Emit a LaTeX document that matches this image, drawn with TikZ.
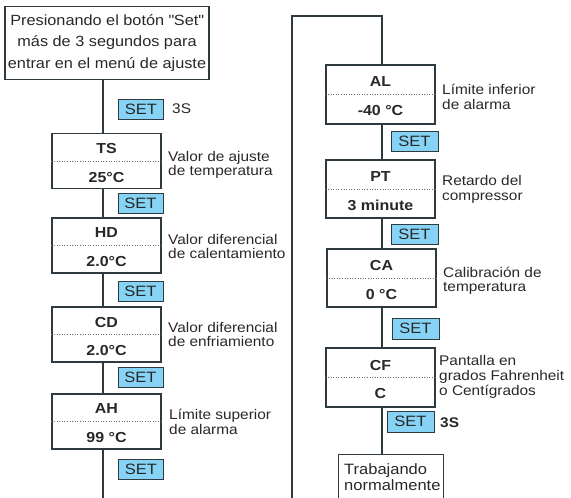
\documentclass[tikz,border=0pt]{standalone}
\usepackage{fontspec}
\setmainfont{Liberation Sans}[FakeStretch=1.1]
\usetikzlibrary{calc, positioning}
\definecolor{linec}{RGB}{46,58,64}
\definecolor{setblue}{RGB}{135,211,245}
\definecolor{txtc}{RGB}{40,40,40}
\definecolor{dotc}{RGB}{110,110,110}
\tikzset{
  link/.style={draw=linec, line width=1.1pt},
  parbox/.style={draw=linec, line width=1.1pt, fill=white, minimum width=109pt, minimum height=55pt, inner sep=0pt},
  setbtn/.style={draw=linec, line width=1pt, fill=setblue, minimum width=45pt, minimum height=20pt, inner sep=0pt, text=txtc, font=\fontsize{15}{15}\selectfont},
  code/.style={text=txtc, text depth=0pt, inner sep=0pt, font=\bfseries\fontsize{14.5}{16}\selectfont},
  desc/.style={anchor=west, align=left, inner sep=0pt, text=txtc, font=\fontsize{14}{14.5}\selectfont},
  sepline/.style={draw=dotc, dotted, line width=0.6pt}
}
\begin{document}
\begin{tikzpicture}[x=1pt, y=-1pt]
  \clip (0,0) rectangle (571,498);

  % Start box
  \node[draw=linec, line width=1.1pt, minimum width=204pt, minimum height=73pt, inner sep=0pt, align=center, text=txtc, font=\fontsize{14.8}{21.5}\selectfont] (start) at (107,43) {Presionando el botón \textquotedbl Set\textquotedbl\\más de 3 segundos para\\entrar en el menú de ajuste};

  % Main lines
  \coordinate (lx) at (103,0);
  \coordinate (rx) at (382,0);
  \coordinate (lbot) at (103,498);
  \coordinate (rbot) at (292,498);
  \coordinate (rtop) at (292,16);

  % Left column
  \node[setbtn] (set0) at (141,109) {SET};
  \node[desc] (hold1) at (172,109) {3S};

  \node[parbox] (ts) at (106.5,161) {};
  \node[desc] (tsd) at (168,165) {Valor de ajuste\\de temperatura};
  \node[setbtn] (set1) at (140.5,203) {SET};

  \node[parbox] (hd) at (106.5,245.5) {};
  \node[desc] (hdd) at (168,246.5) {Valor diferencial\\de calentamiento};
  \node[setbtn] (set2) at (140.5,291) {SET};

  \node[parbox] (cd) at (106.5,334.5) {};
  \node[desc] (cdd) at (168,334.5) {Valor diferencial\\de enfriamiento};
  \node[setbtn] (set3) at (140.5,377.5) {SET};

  \node[parbox] (ah) at (106.5,421.5) {};
  \node[desc] (ahd) at (169,422) {Límite superior\\de alarma};
  \node[setbtn] (set4) at (141,469.5) {SET};

  % Right column
  \node[parbox, minimum height=59pt] (al) at (380.5,94.5) {};
  \node[desc] (ald) at (442,97) {Límite inferior\\de alarma};
  \node[setbtn, minimum width=47pt] (set5) at (414.5,141) {SET};

  \node[parbox, minimum height=58pt] (pt) at (380.5,189) {};
  \node[desc] (ptd) at (442,189.5) {Retardo del\\compressor};
  \node[setbtn, minimum width=47pt] (set6) at (414.5,234) {SET};

  \node[parbox, minimum height=58pt] (ca) at (381.5,278) {};
  \node[desc] (cad) at (443,281) {Calibración de\\temperatura};
  \node[setbtn, minimum width=47pt, minimum height=21pt] (set7) at (415.5,328.5) {SET};

  \node[parbox, minimum height=59pt] (cf) at (380.5,377.5) {};
  \node[desc, font=\fontsize{14}{15}\selectfont] (cfd) at (439,377) {Pantalla en\\grados Fahrenheit\\o Centígrados};
  \node[setbtn, minimum width=47pt, minimum height=21pt] (set8) at (410.5,421.5) {SET};
  \node[desc, font=\bfseries\fontsize{14}{14}\selectfont] (hold2) at (440,423) {3S};

  % End box
  \node[draw=linec, line width=1.1pt, anchor=north west, minimum width=105pt, minimum height=60pt, inner sep=0pt] (trab) at (338,454) {};
  \node[anchor=west, align=left, inner sep=0pt, text=txtc, font=\fontsize{15}{16}\selectfont] (trabt) at (344,477) {Trabajando\\normalmente};

  % Codes and values
  \foreach \n/\c/\v in {ts/TS/25°C, hd/HD/2.0°C, cd/CD/2.0°C, ah/AH/99 °C, al/AL/-40 °C, pt/PT/3 minute, ca/CA/0 °C, cf/CF/C} {
    \draw[sepline] (\n.west) -- (\n.east);
    \node[code] (\n c) at ($(\n.center)+(0,-12.5)$) {\c};
    \node[code] (\n v) at ($(\n.center)+(0,16)$) {\v};
  }

  % Connections, left
  \draw[link] (start.south -| lx) -- (ts.north -| lx);
  \draw[link] (ts.south -| lx) -- (hd.north -| lx);
  \draw[link] (hd.south -| lx) -- (cd.north -| lx);
  \draw[link] (cd.south -| lx) -- (ah.north -| lx);
  \draw[link] (ah.south -| lx) -- (lbot);

  % Connections, right
  \draw[link] (rbot) -- (rtop) -- (rtop -| rx) -- (al.north -| rx);
  \draw[link] (al.south -| rx) -- (pt.north -| rx);
  \draw[link] (pt.south -| rx) -- (ca.north -| rx);
  \draw[link] (ca.south -| rx) -- (cf.north -| rx);
  \draw[link] (cf.south -| rx) -- (trab.north -| rx);
\end{tikzpicture}
\end{document}
